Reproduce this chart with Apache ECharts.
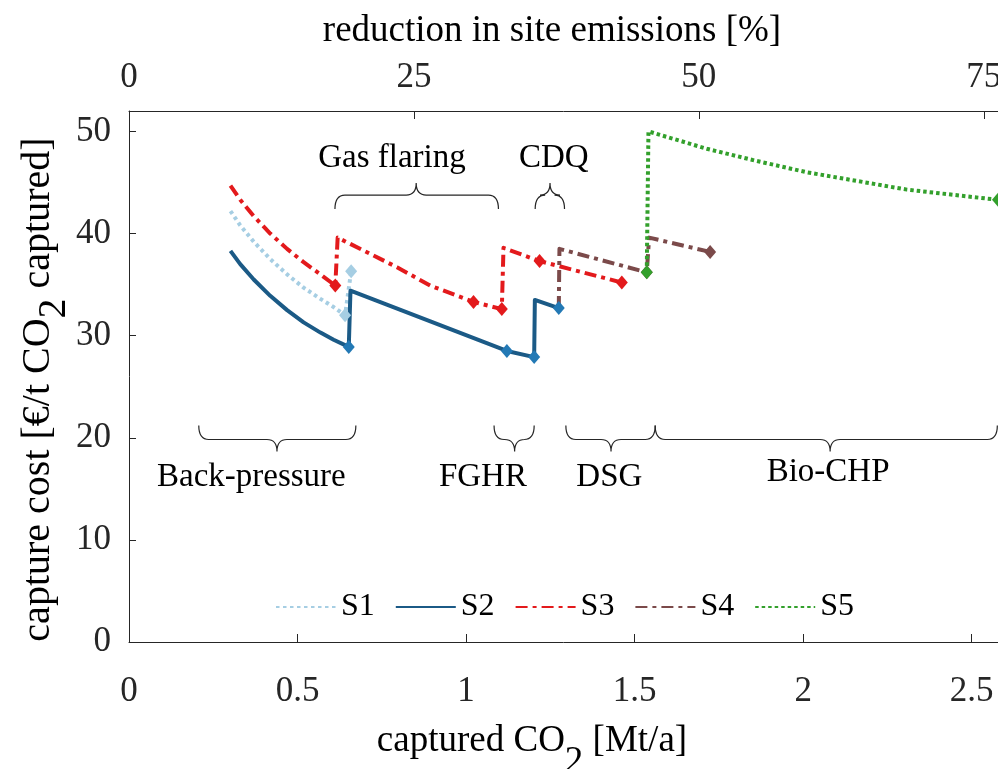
<!DOCTYPE html>
<html>
<head>
<meta charset="utf-8">
<script src="https://cdn.jsdelivr.net/npm/echarts@6/dist/echarts.min.js"></script>
<style>
  html, body { margin: 0; padding: 0; background: #fff; }
  #chart { width: 998px; height: 769px; }
</style>
</head>
<body>
<div id="chart"></div>
<script>
// captured CO2 [Mt/a] vs capture cost
const s1X = [0.301, 0.330, 0.370, 0.419, 0.469, 0.518, 0.568, 0.607, 0.641, 0.659];
const s1Y = [42.2, 40.8, 39.2, 37.5, 36.0, 34.7, 33.6, 32.8, 32.0, 36.3];
const s1Mark = [0, 0, 0, 0, 0, 0, 0, 0, 1, 1];

const s2X = [0.301, 0.330, 0.370, 0.419, 0.469, 0.518, 0.568, 0.607, 0.652, 0.657, 0.894, 1.121, 1.202, 1.204, 1.275];
const s2Y = [38.3, 37.0, 35.5, 33.9, 32.5, 31.3, 30.3, 29.6, 28.9, 34.4, 31.4, 28.5, 27.9, 33.5, 32.7];
const s2Mark = [0, 0, 0, 0, 0, 0, 0, 0, 1, 0, 0, 1, 1, 0, 1];

const s3X = [0.301, 0.330, 0.370, 0.419, 0.469, 0.518, 0.568, 0.612, 0.619, 0.795, 0.894, 1.022, 1.106, 1.111, 1.218, 1.462];
const s3Y = [44.7, 43.3, 41.7, 40.0, 38.5, 37.2, 36.0, 34.9, 39.6, 36.7, 34.9, 33.3, 32.6, 38.6, 37.3, 35.2];
const s3Mark = [0, 0, 0, 0, 0, 0, 0, 1, 0, 0, 0, 1, 1, 0, 1, 1];

const s4X = [1.275, 1.277, 1.536, 1.543, 1.724];
const s4Y = [32.7, 38.5, 36.2, 39.6, 38.2];
const s4Mark = [0, 0, 1, 0, 1];

const s5X = [1.536, 1.541, 1.714, 1.863, 2.011, 2.308, 2.578];
const s5Y = [36.2, 50.0, 48.3, 47.1, 46.0, 44.3, 43.3];
const s5Mark = [1, 0, 0, 0, 0, 0, 1];

// braces with measure names
const braceNames = ['Gas flaring', 'CDQ', 'Back-pressure', 'FGHR', 'DSG', 'Bio-CHP'];
const braceFrom = [0.611, 1.205, 0.207, 1.083, 1.296, 1.561];
const braceTo = [1.096, 1.292, 0.673, 1.202, 1.561, 2.576];
const braceTip = [0.852, 1.249, 0.439, 1.144, 1.430, 2.080];
const braceY = [42.4, 42.4, 21.2, 21.2, 21.2, 21.2];
const braceUp = [1, 1, 0, 0, 0, 0];
const labelX = [0.780, 1.260, 0.363, 1.050, 1.425, 2.074];
const labelY = [47.4, 47.4, 16.1, 16.1, 16.1, 16.6];

const xMax = 2.578;
const mtPerPercent = 3.381 / 100; // 100 % of site emissions in Mt/a
const topMax = xMax / mtPerPercent;

const font = 'Liberation Serif';

function pts(xs, ys, marks) {
  return xs.map((x, i) => ({ value: [x, ys[i]], symbol: marks[i] ? 'diamond' : 'none' }));
}

function lineSeries(name, xs, ys, marks, color, markColor, type, width) {
  return {
    name: name,
    type: 'line',
    data: pts(xs, ys, marks),
    symbol: 'diamond',
    symbolSize: [12, 14],
    showSymbol: true,
    clip: true,
    lineStyle: { color: color, width: width, type: type, join: 'round' },
    itemStyle: { color: markColor },
    emphasis: { disabled: true },
    z: 3
  };
}

let chart = echarts.init(document.getElementById('chart'));

let option = {
  animation: false,
  textStyle: { fontFamily: font },
  grid: { left: 129, top: 111, bottom: 127, right: 0, outerBoundsMode: 'none', containLabel: false },
  legend: {
    data: ['S1', 'S2', 'S3', 'S4', 'S5'],
    left: 270,
    top: 586,
    itemWidth: 60,
    itemHeight: 14,
    itemGap: 20,
    itemStyle: { opacity: 0 },
    textStyle: { fontSize: 32, fontFamily: font, color: '#000' }
  },
  xAxis: [
    {
      type: 'value',
      position: 'bottom',
      min: 0,
      max: xMax,
      interval: 0.5,
      name: 'captured CO{sub|2} [Mt/a]',
      nameLocation: 'middle',
      nameGap: 60,
      nameMoveOverlap: false,
      nameTextStyle: {
        fontSize: 37, fontFamily: font, color: '#000', padding: [0, 63, 0, 0],
        rich: { sub: { fontSize: 37, fontFamily: font, color: '#000', padding: [42, 0, 0, 0] } }
      },
      axisLine: { lineStyle: { color: '#262626', width: 1 } },
      axisTick: { inside: true, length: 8, lineStyle: { color: '#262626' } },
      axisLabel: { fontSize: 35, fontFamily: font, color: '#262626', margin: 32, showMaxLabel: false },
      splitLine: { show: false }
    },
    {
      type: 'value',
      position: 'top',
      min: 0,
      max: topMax,
      interval: 25,
      name: 'reduction in site emissions [%]',
      nameLocation: 'middle',
      nameGap: 61,
      nameMoveOverlap: false,
      nameTextStyle: { fontSize: 37, fontFamily: font, color: '#000', padding: [0, 23, 0, 0] },
      axisLine: { lineStyle: { color: '#262626', width: 1 } },
      axisTick: { inside: true, length: 8, lineStyle: { color: '#262626' } },
      axisLabel: { fontSize: 35, fontFamily: font, color: '#262626', margin: 16, showMaxLabel: false },
      splitLine: { show: false }
    }
  ],
  yAxis: {
    type: 'value',
    min: 0,
    max: 52,
    interval: 10,
    name: 'capture cost [€/t CO{sub|2} captured]',
    nameLocation: 'middle',
    nameRotate: 90,
    nameGap: 55,
    nameMoveOverlap: false,
    nameTextStyle: {
      fontSize: 40, fontFamily: font, color: '#000', padding: [0, 26, 0, 0],
      rich: { sub: { fontSize: 40, fontFamily: font, color: '#000', padding: [32, 0, 0, 0] } }
    },
    axisLine: { show: true, lineStyle: { color: '#262626', width: 1 } },
    axisTick: { show: true, inside: true, length: 7, lineStyle: { color: '#262626' } },
    axisLabel: { fontSize: 35, fontFamily: font, color: '#262626', margin: 18, showMaxLabel: false },
    splitLine: { show: false }
  },
  series: [
    lineSeries('S1', s1X, s1Y, s1Mark, '#a6cee3', '#a6cee3', [3.5, 3.5], 4),
    lineSeries('S2', s2X, s2Y, s2Mark, '#1b5a86', '#2379b5', 'solid', 4),
    lineSeries('S3', s3X, s3Y, s3Mark, '#e31a1c', '#e31a1c', [12, 5, 4, 5], 4),
    lineSeries('S4', s4X, s4Y, s4Mark, '#7b4a4a', '#7b4a4a', [12, 5, 4, 5], 4),
    lineSeries('S5', s5X, s5Y, s5Mark, '#33a02c', '#33a02c', [3.5, 3], 4),
    {
      name: 'braces',
      type: 'custom',
      silent: true,
      clip: false,
      data: braceFrom.map((v, i) => [v, braceTo[i], braceTip[i], braceY[i]]),
      renderItem: function (params, api) {
        let i = params.dataIndex;
        let a = api.coord([api.value(0), api.value(3)]);
        let b = api.coord([api.value(1), api.value(3)]);
        let t = api.coord([api.value(2), api.value(3)]);
        let lab = api.coord([labelX[i], labelY[i]]);
        let d = braceUp[i] ? -1 : 1;
        let y0 = a[1], yl = y0 + d * 14, yt = yl + d * 12, r = 10;
        let path = 'M' + a[0] + ',' + y0 +
          ' Q' + a[0] + ',' + yl + ' ' + (a[0] + r) + ',' + yl +
          ' L' + (t[0] - r) + ',' + yl +
          ' Q' + t[0] + ',' + yl + ' ' + t[0] + ',' + yt +
          ' Q' + t[0] + ',' + yl + ' ' + (t[0] + r) + ',' + yl +
          ' L' + (b[0] - r) + ',' + yl +
          ' Q' + b[0] + ',' + yl + ' ' + b[0] + ',' + y0;
        return {
          type: 'group',
          children: [
            {
              type: 'path',
              shape: { pathData: path },
              style: { stroke: '#262626', lineWidth: 1.2, fill: null }
            },
            {
              type: 'text',
              x: lab[0],
              y: lab[1],
              style: {
                text: braceNames[i], fontSize: 33, fontFamily: font, fill: '#000',
                align: 'center', verticalAlign: 'middle'
              }
            }
          ]
        };
      },
      z: 2
    }
  ]
};

chart.setOption(option);
window.addEventListener('resize', () => {
  chart.resize();
});
</script>
</body>
</html>
